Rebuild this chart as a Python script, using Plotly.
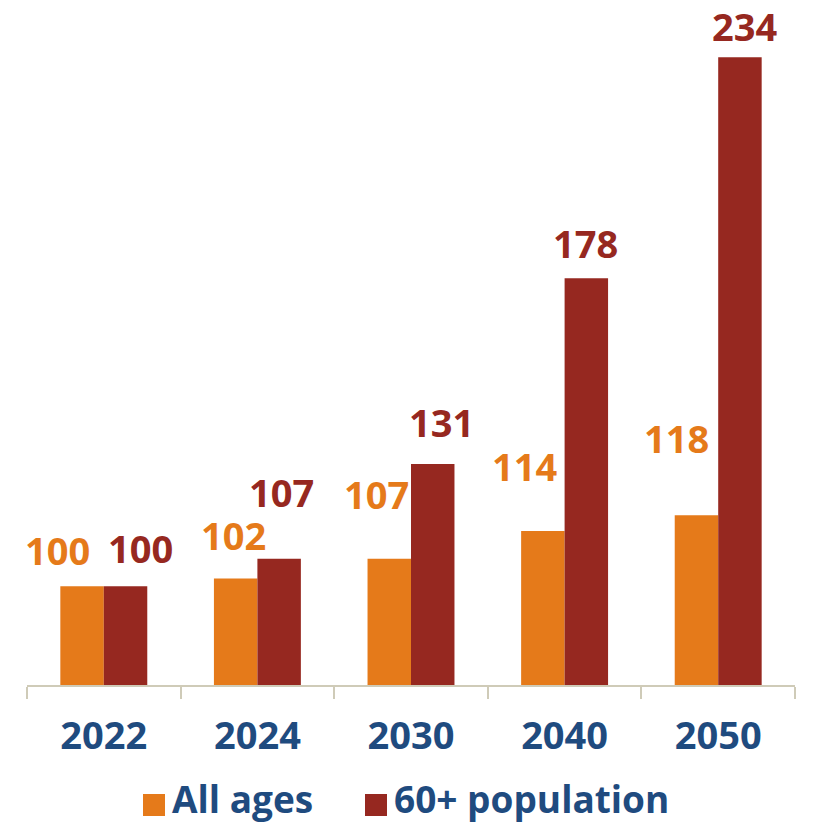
import plotly.graph_objects as go

# Data
years = ["2022", "2024", "2030", "2040", "2050"]
all_ages = [100, 102, 107, 114, 118]
pop_60_plus = [100, 107, 131, 178, 234]
series_names = ["All ages", "60+ population"]

ORANGE = "#E57A1A"
RED = "#962820"
BLUE = "#1F4B7F"
AXIS = "#CFCBB8"
FONT = "Open Sans"

# hand-placed label offsets (px) relative to bar centre / bar top
orange_dx = [-24, -2, -13, -18, -20]
orange_dy = [36, 43, 65, 65, 77]
red_dx = [15, 2, 8, -1, 4]
red_dy = [38, 67, 42, 35, 31]

fig = go.Figure()

fig.add_trace(go.Bar(
    x=years, y=all_ages, name=series_names[0],
    marker=dict(color=ORANGE, line=dict(width=0)),
    showlegend=False
))
fig.add_trace(go.Bar(
    x=years, y=pop_60_plus, name=series_names[1],
    marker=dict(color=RED, line=dict(width=0)),
    showlegend=False
))

# value labels (category axis -> annotations use the category index)
for i, yr in enumerate(years):
    fig.add_annotation(
        x=i, y=all_ages[i], text=str(all_ages[i]),
        xshift=-22 + orange_dx[i], yshift=orange_dy[i],
        showarrow=False, xanchor="center", yanchor="middle",
        font=dict(family=FONT, size=38, color=ORANGE, weight="bold")
    )
    fig.add_annotation(
        x=i, y=pop_60_plus[i], text=str(pop_60_plus[i]),
        xshift=22 + red_dx[i], yshift=red_dy[i],
        showarrow=False, xanchor="center", yanchor="middle",
        font=dict(family=FONT, size=38, color=RED, weight="bold")
    )

# manual legend with big square swatches
legend_items = [(series_names[0], ORANGE, 143), (series_names[1], RED, 365)]
for name, color, px in legend_items:
    fig.add_shape(
        type="rect", xref="paper", yref="paper",
        x0=(px - 27) / 768, x1=(px + 22 - 27) / 768,
        y0=-109 / 685, y1=-131 / 685,
        fillcolor=color, line=dict(width=0)
    )
    fig.add_annotation(
        xref="paper", yref="paper",
        x=(px + 27 - 27) / 768, y=-113 / 685,
        text=name, showarrow=False, xanchor="left", yanchor="middle",
        font=dict(family=FONT, size=37, color=BLUE, weight="bold")
    )

fig.update_layout(
    width=815, height=822,
    margin=dict(l=27, r=20, t=0, b=137),
    barmode="group",
    bargap=0.434,
    bargroupgap=0,
    plot_bgcolor="white",
    paper_bgcolor="white",
    font=dict(family=FONT, color=BLUE),
)

fig.update_xaxes(
    type="category", range=[-0.5, len(years) - 0.5], tickangle=0,
    showline=True, linecolor=AXIS, linewidth=2,
    ticks="outside", tickson="boundaries", ticklen=12,
    tickcolor=AXIS, tickwidth=2, ticklabelstandoff=16,
    tickfont=dict(family=FONT, size=38, color=BLUE, weight="bold"),
    showgrid=False
)
fig.update_yaxes(
    range=[75, 248.5], visible=False, showgrid=False, zeroline=False
)

fig.write_html("out.html", config={"displayModeBar": False},
               post_script="document.body.style.margin='0';")
